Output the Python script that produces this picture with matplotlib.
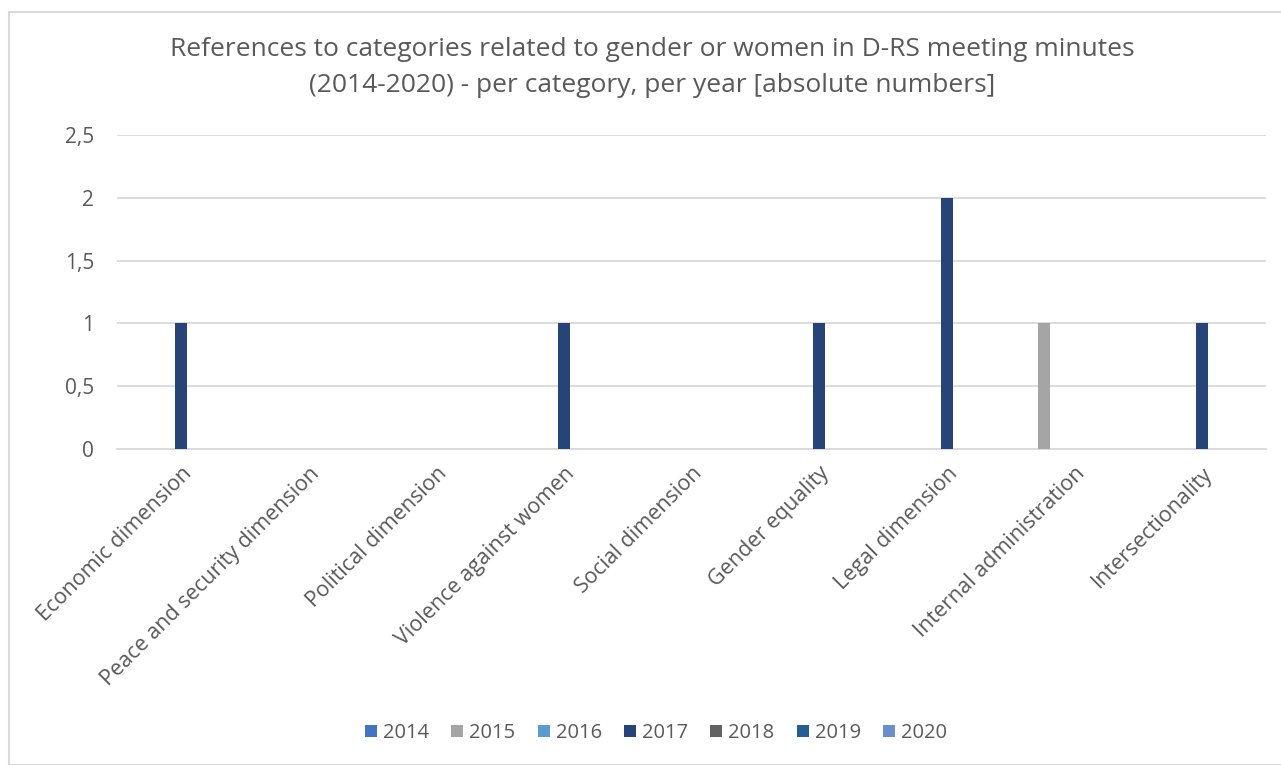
import numpy as np
import matplotlib.pyplot as plt
from matplotlib.patches import Rectangle

plt.rcParams['font.family'] = ['Open Sans', 'DejaVu Sans']

# data
categories = ['Economic dimension', 'Peace and security dimension', 'Political dimension',
              'Violence against women', 'Social dimension', 'Gender equality',
              'Legal dimension', 'Internal administration', 'Intersectionality']
years = ['2014', '2015', '2016', '2017', '2018', '2019', '2020']
v2014 = [0, 0, 0, 0, 0, 0, 0, 0, 0]
v2015 = [0, 0, 0, 0, 0, 0, 0, 1, 0]
v2016 = [0, 0, 0, 0, 0, 0, 0, 0, 0]
v2017 = [1, 0, 0, 1, 0, 1, 2, 0, 1]
v2018 = [0, 0, 0, 0, 0, 0, 0, 0, 0]
v2019 = [0, 0, 0, 0, 0, 0, 0, 0, 0]
v2020 = [0, 0, 0, 0, 0, 0, 0, 0, 0]
series = [v2014, v2015, v2016, v2017, v2018, v2019, v2020]
colors = ['#4472C4', '#A5A5A5', '#5B9BD5', '#264478', '#636363', '#255E91', '#698ED0']

text_col = '#595959'
grid_col = '#D9D9D9'

fig = plt.figure(figsize=(12.81, 7.65), dpi=100)
ax = fig.add_axes([117/1281, 1-449/765, (1266-117)/1281, (449-135)/765])

x = np.arange(len(categories))
slot = 0.1176
width = 0.094
for i, (vals, c, y) in enumerate(zip(series, colors, years)):
    ax.bar(x + (i - 3) * slot, vals, width=width, color=c, label=y, zorder=3)

ax.set_xlim(-0.5, len(categories) - 0.5)
ax.set_ylim(0, 2.5)
ax.set_yticks([0, 0.5, 1, 1.5, 2, 2.5])
ax.set_yticklabels(['0', '0,5', '1', '1,5', '2', '2,5'], fontsize=15, color=text_col)
ax.tick_params(axis='y', length=0, pad=16.5)
ax.tick_params(axis='x', length=0, pad=10)
ax.set_xticks(x)
ax.set_xticklabels(categories, rotation=45, ha='right', rotation_mode='anchor',
                   fontsize=15.5, color=text_col)
ax.grid(axis='y', color=grid_col, linewidth=1.3, zorder=0)
for s in ['top', 'right', 'left']:
    ax.spines[s].set_visible(False)
ax.spines['bottom'].set_color(grid_col)
ax.spines['bottom'].set_linewidth(1.3)

fig.text(652/1281, 1-50/765, 'References to categories related to gender or women in D-RS meeting minutes',
         ha='center', va='center', fontsize=19, color=text_col)
fig.text(652/1281, 1-85/765, '(2014-2020) - per category, per year [absolute numbers]',
         ha='center', va='center', fontsize=19, color=text_col)

fig.legend(loc='center', bbox_to_anchor=(656/1281, 1-733/765), ncol=7, frameon=False,
           fontsize=14.5, labelcolor=text_col, handlelength=0.6, handleheight=0.6,
           handletextpad=0.3, columnspacing=1.1)

fig.patches.append(Rectangle((9/1281, 0), 1.1, 1-12/765, transform=fig.transFigure,
                             fill=False, edgecolor=grid_col, linewidth=1.5))

fig.savefig('out.png', dpi=100)
